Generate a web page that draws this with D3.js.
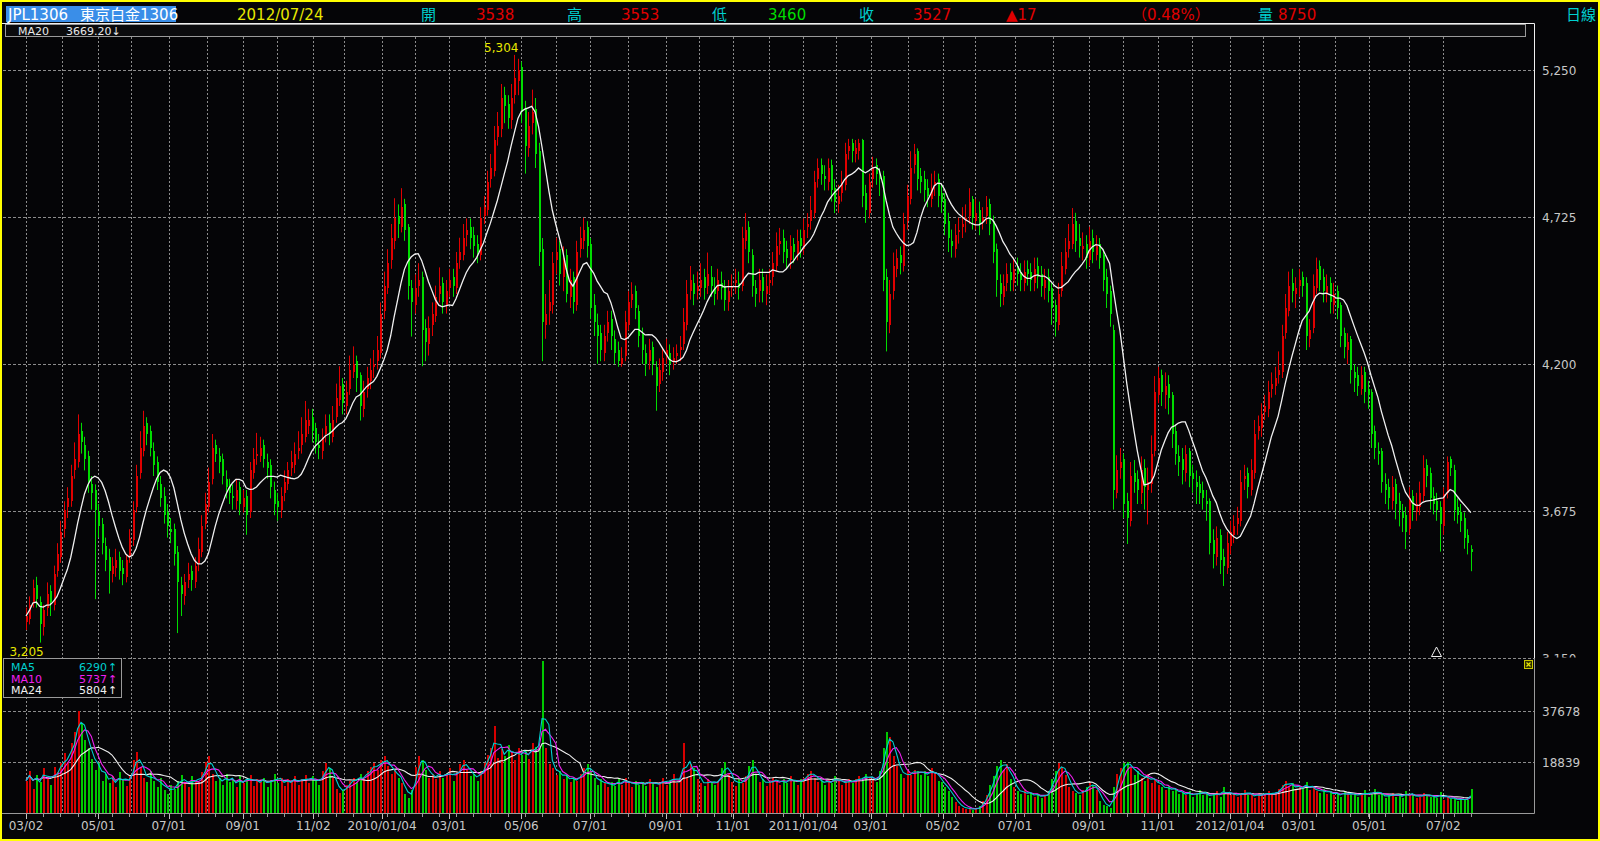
<!DOCTYPE html>
<html><head><meta charset="utf-8">
<script src="https://cdn.jsdelivr.net/npm/d3@7"></script>
<style>
html,body{margin:0;padding:0;background:#050507;overflow:hidden}
svg{display:block}
text{font-family:"DejaVu Sans","Noto Sans CJK TC",sans-serif}
</style></head><body>
<svg id="c" width="1600" height="841"></svg>
<script>
// ---- Data: each bar = 2 trading days, from 2009/03/02 to 2012/07/24 ----
const open = [
3280,3290,3350,3410,3350,3260,3330,3390,3340,3460,
3510,3610,3690,3710,3820,3850,3960,3910,3870,3770,
3750,3670,3630,3550,3510,3450,3470,3510,3470,3440,
3510,3570,3690,3810,3890,3990,3960,3890,3850,3770,
3730,3670,3610,3610,3530,3410,3370,3430,3460,3420,
3490,3530,3630,3690,3790,3910,3870,3860,3790,3770,
3730,3710,3760,3690,3730,3670,3810,3870,3870,3910,
3850,3840,3750,3710,3680,3740,3770,3830,3840,3890,
3910,3940,3980,4010,3970,3910,3890,3950,3990,3940,
4010,4070,4130,4050,4110,4170,4210,4160,4040,4110,
4140,4190,4210,4240,4390,4470,4570,4640,4730,4690,
4770,4690,4470,4410,4480,4510,4330,4270,4340,4370,
4450,4490,4410,4470,4510,4470,4570,4590,4660,4690,
4660,4630,4590,4730,4750,4860,4890,5010,5040,5160,
5130,5070,5160,5210,5260,5110,4970,5060,5110,4960,
4610,4340,4390,4410,4570,4610,4510,4590,4440,4510,
4410,4610,4640,4690,4630,4410,4340,4310,4240,4310,
4360,4290,4250,4200,4230,4340,4430,4460,4390,4310,
4240,4210,4260,4190,4130,4170,4230,4240,4210,4230,
4250,4270,4340,4460,4490,4460,4470,4510,4480,4510,
4470,4460,4490,4480,4420,4470,4490,4490,4480,4640,
4690,4590,4470,4460,4510,4450,4490,4510,4550,4630,
4650,4610,4570,4630,4590,4650,4610,4690,4710,4740,
4860,4910,4870,4850,4910,4830,4770,4810,4840,4960,
4990,4950,4960,5000,4810,4740,4860,4910,4870,4870,
4510,4340,4460,4540,4590,4550,4710,4790,4910,4960,
4870,4860,4830,4790,4840,4860,4810,4790,4710,4640,
4610,4670,4690,4710,4730,4790,4710,4750,4710,4730,
4770,4710,4610,4490,4440,4490,4530,4490,4550,4530,
4490,4540,4530,4490,4550,4520,4470,4510,4470,4410,
4340,4460,4540,4610,4630,4710,4650,4610,4630,4570,
4650,4590,4630,4590,4510,4460,4320,3740,3830,3860,
3710,3640,3810,3790,3740,3830,3750,3770,3890,4090,
4160,4090,4130,4090,3960,3870,3860,3810,3890,3810,
3780,3770,3750,3710,3710,3570,3510,3590,3510,3470,
3550,3590,3630,3640,3790,3810,3750,3810,3960,3970,
4030,4040,4110,4120,4160,4170,4310,4390,4490,4450,
4480,4510,4490,4290,4330,4470,4550,4510,4450,4490,
4410,4460,4410,4310,4250,4290,4170,4160,4110,4170,
4110,4100,3960,3890,3890,3770,3760,3710,3770,3710,
3670,3660,3610,3730,3670,3690,3730,3840,3810,3730,
3710,3690,3620,3740,3860,3820,3690,3670,3650,3590,
3538];
const high = [
3330,3370,3430,3440,3370,3340,3420,3410,3480,3560,
3640,3710,3760,3840,3920,4020,3990,3940,3890,3800,
3770,3700,3650,3580,3540,3510,3540,3530,3500,3520,
3610,3710,3840,3960,4033,4010,3980,3920,3870,3800,
3760,3700,3650,3630,3550,3440,3450,3490,3480,3510,
3580,3660,3740,3830,3950,3930,3900,3880,3820,3790,
3770,3790,3780,3750,3750,3850,3900,3954,3940,3930,
3880,3860,3780,3740,3760,3820,3850,3890,3920,3960,
4010,4068,4040,4040,3990,3950,3970,4020,4020,4050,
4130,4192,4150,4140,4230,4263,4230,4170,4140,4190,
4220,4250,4300,4420,4530,4610,4700,4792,4770,4828,
4790,4700,4500,4520,4560,4530,4360,4370,4420,4480,
4545,4510,4500,4540,4540,4600,4651,4700,4720,4720,
4690,4660,4760,4800,4890,4950,5050,5100,5200,5190,
5160,5200,5304,5290,5280,5140,5100,5180,5150,4990,
4650,4450,4500,4600,4651,4640,4620,4610,4540,4530,
4640,4690,4722,4710,4650,4450,4380,4340,4340,4390,
4390,4320,4280,4260,4390,4460,4492,4480,4410,4330,
4270,4290,4280,4210,4220,4260,4290,4270,4260,4270,
4300,4400,4500,4550,4520,4530,4560,4540,4598,4550,
4510,4540,4530,4500,4500,4520,4540,4530,4690,4739,
4710,4610,4500,4540,4540,4520,4540,4600,4670,4686,
4680,4640,4660,4650,4680,4680,4720,4739,4800,4890,
4934,4934,4910,4934,4930,4860,4840,4890,4990,5004,
5004,5000,5004,5004,4840,4880,4940,4934,4900,4890,
4540,4500,4598,4610,4620,4740,4840,4960,4986,4970,
4900,4890,4860,4880,4890,4880,4840,4810,4740,4680,
4700,4722,4760,4770,4828,4800,4790,4780,4760,4800,
4790,4730,4630,4520,4520,4560,4560,4580,4580,4560,
4570,4570,4560,4580,4580,4550,4540,4540,4490,4430,
4490,4600,4650,4700,4757,4740,4700,4670,4660,4690,
4680,4660,4650,4610,4540,4480,4340,3874,3900,3880,
3740,3850,3857,3820,3870,3860,3830,3945,4157,4190,
4180,4170,4160,4100,3980,3910,3900,3910,3900,3840,
3820,3800,3780,3750,3720,3610,3620,3610,3540,3600,
3640,3660,3690,3821,3840,3830,3860,4000,4016,4060,
4090,4140,4170,4190,4245,4340,4450,4530,4540,4510,
4540,4530,4510,4360,4520,4580,4570,4540,4520,4510,
4490,4480,4420,4330,4310,4300,4200,4190,4192,4190,
4140,4110,3980,3920,3900,3810,3790,3800,3790,3740,
3700,3690,3760,3750,3740,3780,3874,3860,3830,3760,
3740,3710,3760,3870,3870,3840,3720,3700,3670,3610,
3553];
const low = [
3250,3270,3330,3330,3205,3230,3300,3300,3320,3440,
3490,3580,3650,3690,3790,3830,3880,3820,3740,3680,
3360,3580,3520,3460,3380,3420,3440,3430,3410,3420,
3490,3550,3670,3790,3870,3910,3870,3800,3750,3690,
3630,3580,3560,3480,3239,3300,3340,3400,3390,3400,
3460,3510,3610,3670,3770,3850,3810,3770,3720,3700,
3680,3680,3660,3670,3590,3650,3790,3840,3850,3830,
3790,3720,3660,3640,3650,3710,3750,3800,3810,3860,
3880,3920,3950,3920,3880,3860,3860,3920,3910,3920,
3990,4050,4020,4020,4090,4150,4100,3998,4010,4080,
4110,4150,4180,4220,4360,4450,4540,4610,4650,4670,
4640,4430,4298,4380,4440,4192,4210,4230,4300,4350,
4420,4380,4380,4440,4440,4450,4540,4570,4620,4610,
4580,4560,4570,4700,4730,4830,4870,4980,5010,5060,
5040,5040,5130,5160,5060,4880,4940,5020,4900,4550,
4210,4290,4340,4380,4520,4480,4460,4420,4400,4380,
4390,4580,4610,4580,4360,4300,4201,4210,4210,4280,
4250,4200,4190,4190,4210,4320,4400,4360,4260,4200,
4157,4180,4160,4033,4100,4140,4200,4160,4180,4200,
4210,4250,4320,4430,4410,4430,4440,4430,4450,4440,
4410,4430,4430,4390,4390,4440,4450,4430,4460,4610,
4560,4440,4404,4420,4420,4410,4450,4480,4530,4590,
4560,4540,4540,4560,4570,4580,4590,4650,4680,4720,
4830,4840,4820,4820,4780,4739,4740,4780,4820,4930,
4920,4920,4930,4760,4704,4720,4830,4840,4800,4460,
4245,4310,4430,4510,4520,4530,4680,4770,4880,4820,
4810,4780,4760,4760,4800,4760,4740,4660,4600,4580,
4580,4630,4650,4670,4700,4680,4680,4660,4680,4700,
4660,4560,4440,4404,4410,4460,4460,4460,4480,4460,
4460,4480,4460,4460,4470,4440,4430,4420,4340,4298,
4320,4440,4520,4580,4610,4600,4580,4570,4540,4550,
4560,4570,4540,4460,4400,4333,3680,3720,3790,3650,
3557,3620,3740,3700,3700,3680,3627,3740,3870,4060,
4050,4040,4020,3900,3840,3800,3770,3780,3760,3740,
3700,3700,3680,3640,3520,3470,3480,3450,3407,3450,
3520,3560,3590,3620,3750,3720,3730,3790,3930,3940,
4000,4010,4080,4090,4130,4150,4290,4370,4420,4400,
4440,4440,4250,4260,4310,4450,4460,4420,4420,4380,
4380,4360,4260,4220,4200,4130,4100,4086,4090,4060,
4040,3900,3860,3840,3740,3700,3680,3680,3645,3620,
3600,3539,3590,3640,3640,3660,3710,3760,3680,3663,
3640,3530,3590,3720,3800,3640,3630,3600,3540,3520,
3460];
const close = [
3300,3340,3400,3360,3270,3320,3380,3350,3450,3520,
3600,3680,3720,3800,3860,3950,3920,3860,3780,3740,
3680,3620,3560,3500,3460,3480,3500,3460,3450,3500,
3580,3680,3800,3900,3980,3950,3900,3840,3780,3720,
3660,3620,3600,3520,3420,3380,3420,3450,3430,3480,
3540,3620,3700,3780,3900,3880,3850,3800,3760,3740,
3720,3750,3700,3720,3660,3820,3860,3880,3900,3860,
3830,3760,3700,3690,3730,3780,3820,3850,3880,3900,
3950,4000,4000,3960,3920,3900,3940,3980,3950,4000,
4080,4120,4060,4100,4180,4200,4150,4050,4100,4150,
4180,4200,4250,4380,4480,4560,4650,4720,4700,4760,
4680,4480,4420,4470,4500,4320,4280,4330,4380,4440,
4480,4420,4460,4500,4480,4560,4600,4650,4680,4650,
4620,4600,4720,4760,4850,4900,5000,5050,5150,5120,
5080,5150,5220,5250,5100,4980,5050,5100,4950,4600,
4350,4380,4420,4560,4600,4520,4580,4450,4500,4420,
4600,4650,4680,4620,4400,4350,4300,4250,4300,4350,
4300,4240,4210,4220,4350,4420,4450,4400,4300,4250,
4200,4250,4200,4120,4180,4220,4250,4200,4220,4240,
4260,4350,4450,4500,4450,4480,4500,4470,4520,4480,
4450,4500,4470,4430,4460,4480,4500,4470,4650,4680,
4600,4480,4450,4500,4460,4480,4500,4560,4620,4640,
4600,4580,4620,4600,4640,4620,4680,4700,4750,4850,
4900,4880,4860,4900,4820,4780,4800,4850,4950,4980,
4960,4970,4990,4800,4750,4850,4900,4880,4860,4500,
4350,4450,4550,4580,4560,4700,4800,4900,4950,4860,
4850,4820,4800,4830,4850,4800,4780,4700,4650,4620,
4660,4680,4700,4720,4780,4720,4740,4700,4720,4760,
4700,4600,4500,4450,4480,4520,4500,4540,4520,4500,
4530,4520,4500,4540,4510,4480,4500,4460,4400,4350,
4450,4550,4600,4640,4700,4640,4620,4620,4580,4640,
4600,4620,4580,4500,4450,4380,3750,3820,3850,3700,
3650,3800,3780,3750,3820,3760,3780,3880,4100,4150,
4100,4120,4080,3950,3880,3850,3820,3880,3800,3790,
3760,3740,3720,3700,3560,3520,3580,3500,3480,3560,
3600,3620,3650,3780,3800,3760,3820,3950,3980,4020,
4050,4100,4130,4150,4180,4300,4400,4480,4460,4470,
4500,4480,4300,4320,4480,4540,4500,4460,4480,4420,
4450,4400,4300,4260,4280,4180,4150,4120,4160,4100,
4090,3950,3900,3880,3780,3750,3720,3760,3700,3680,
3650,3600,3720,3680,3700,3740,3830,3800,3720,3700,
3680,3630,3735,3850,3830,3680,3660,3640,3580,3560,
3527];
const volume = [
12000,15500,9000,14000,11500,16500,13000,10500,17000,15000,
18500,22000,19000,26000,30000,37500,33000,27000,24000,20000,
16000,18500,12000,14500,11000,13500,9500,15000,12500,10000,
14000,19500,22500,17000,13000,11500,15500,12000,9500,13000,
8500,7000,10500,9000,12000,14000,11000,9500,13500,12000,
11500,15000,19000,21000,14500,12000,13000,10500,14500,11500,
12500,9500,13500,11000,12500,14000,10000,12500,11500,13000,
9500,12000,14500,11000,13000,10000,12500,11500,13500,10500,
12500,14000,11000,13500,12000,10500,15500,18500,16500,13000,
9000,7500,8500,10500,12000,13000,11500,14500,12500,15500,
17000,18500,16000,19500,21000,17500,14500,16000,13000,11000,
7000,5500,8500,17000,21000,19500,16000,13000,14500,12500,
15500,13000,14000,16500,12000,15000,18000,19500,16000,13500,
14500,12000,15500,18500,21500,24000,32000,20500,23500,21000,
25000,22500,19500,24000,21500,23000,20000,26000,24500,24000,
56000,24000,18000,16500,14000,15500,12500,14000,11500,13000,
12000,14500,16500,18000,15000,13000,10500,12500,11000,9500,
11500,10000,12500,10500,13000,11000,9500,12000,10500,11500,
10000,12500,11000,9500,11500,13000,10500,12000,14500,11000,
12000,26000,13000,18000,16500,12500,11000,10000,12500,11500,
10500,12000,16500,19000,14500,11500,10000,12500,11000,13500,
17500,19500,14000,11500,12500,10000,11500,13000,12000,10500,
12500,11000,13500,12000,10500,12500,13000,14500,15500,13000,
11500,12000,10500,12500,11000,13500,12000,10500,11500,12500,
11000,12500,13500,12000,14500,13000,12500,11500,15500,24000,
30000,28000,21000,17500,14500,13000,15500,14000,16000,15500,
14000,15500,13500,16500,15000,12000,11500,9500,8000,6000,
4000,2500,2000,1500,1800,1200,1500,2500,4500,6500,
10500,13500,17500,19500,16000,18000,12500,9500,8000,7000,
8500,6500,7500,6000,7000,5500,6500,8000,12500,15500,
18500,17000,14000,9500,8000,7500,6500,8500,9500,11000,
10500,8500,4500,3000,2500,2000,9500,14500,16500,18500,
19000,16500,14000,15500,13000,12000,14500,11000,12500,10500,
9500,8500,10000,8000,9000,7000,7500,6500,8000,6000,
7000,8500,6500,7500,5500,7000,8000,6000,9500,7000,
6500,7500,6000,7000,8500,6500,7000,5500,7500,6500,
7000,8000,6500,7500,9000,10500,12000,9500,11000,8500,
10000,9000,11500,8500,9500,8000,7500,9000,7000,8000,
6500,7500,6000,8000,7000,6500,7500,6000,7000,8500,
6000,7500,9000,6500,7000,5500,6500,7500,6000,7000,
5500,8000,6500,7000,5500,6000,7500,6500,6000,6200,
5400,7800,4900,6100,5300,5263,4615,5200,5200,4920,
8750];

// trading-day index of each month start (bar i sits at trading day 2*i)
const monthDays = [0,21,42,61,83,105,126,146,167,185,207,226,246,267,288,308,328,350,372,391,411,
                   432,452,471,491,513,533,552,575,597,618,638,658,678,700,719,740,761,781,804,824];
const monthLabels = ["03/02","","05/01","","07/01","","09/01","","11/02","","2010/01/04","","03/01","","05/06","","07/01","","09/01","","11/01",
                     "","2011/01/04","","03/01","","05/02","","07/01","","09/01","","11/01","","2012/01/04","","03/01","","05/01","","07/02"];
const priceTicks = [5250, 4725, 4200, 3675, 3150];
const volumeTicks = [37678, 18839];
const markerBars = [410];
const maWindow = 10;                 // 10 bars x 2 days = MA20
const volMaWindows = [3, 5, 12];     // ~MA5, MA10, MA24 in days
const volMaNames = ["MA5", "MA10", "MA24"];
const header = {code:"JPL1306", name:"東京白金1306", date:"2012/07/24", change:"▲17", pct:"（0.48%）"};

// ---- Drawing ----
const W = 1600, H = 841;
const svg = d3.select('#c');
const N = close.length;
const RED = "#e00000", GREEN = "#00dc00", CYAN = "#00d0d0", YEL = "#e8e800", GRID = "#8c8c8c", LBL = "#c8c8c8";

const x = d3.scaleLinear().domain([0, 840]).range([26, 26 + 840 * 1.72]);
const bx = i => x(i * 2);
const yP = d3.scaleLinear().domain([3150, 5250]).range([658, 70]);
const yV = d3.scaleLinear().domain([0, 37678]).range([813, 711]);

const mavg = (arr, n) => arr.map((_, i) => { const s = Math.max(0, i - n + 1); return d3.sum(arr.slice(s, i + 1)) / (i - s + 1); });
const ma20 = mavg(close, maWindow);
const vma = volMaWindows.map(n => mavg(volume, n));
const isUp = i => close[i] >= open[i];

svg.append('rect').attr('width', W).attr('height', H).attr('fill', '#050507');

const defs = svg.append('defs');
defs.append('clipPath').attr('id', 'cp').append('rect').attr('x', 3).attr('y', 37).attr('width', 1531).attr('height', 621);
defs.append('clipPath').attr('id', 'cv').append('rect').attr('x', 3).attr('y', 658).attr('width', 1531).attr('height', 156);
defs.append('clipPath').attr('id', 'cl').append('rect').attr('x', 1535).attr('y', 37).attr('width', 60).attr('height', 620.5);

// grid
const g = svg.append('g');
g.selectAll('.hg').data(priceTicks).join('line')
  .attr('x1', 3).attr('x2', 1534).attr('y1', d => Math.round(yP(d)) + 0.5).attr('y2', d => Math.round(yP(d)) + 0.5)
  .attr('stroke', GRID).attr('stroke-dasharray', '3,2');
g.selectAll('.vg').data(volumeTicks).join('line')
  .attr('x1', 3).attr('x2', 1534).attr('y1', d => Math.round(yV(d)) + 0.5).attr('y2', d => Math.round(yV(d)) + 0.5)
  .attr('stroke', GRID).attr('stroke-dasharray', '3,2');
g.selectAll('.mg').data(monthDays).join('line')
  .attr('x1', d => Math.round(x(d)) + 0.5).attr('x2', d => Math.round(x(d)) + 0.5).attr('y1', 37).attr('y2', 813)
  .attr('stroke', GRID).attr('stroke-dasharray', '2,2');

// candles
const cg = svg.append('g').attr('clip-path', 'url(#cp)');
const idx = d3.range(N);
cg.selectAll('.w').data(idx).join('line')
  .attr('x1', i => Math.round(bx(i)) + 0.5).attr('x2', i => Math.round(bx(i)) + 0.5)
  .attr('y1', i => yP(Math.max(high[i], open[i], close[i]))).attr('y2', i => yP(Math.min(low[i], open[i], close[i])))
  .attr('stroke', i => isUp(i) ? RED : GREEN).attr('stroke-width', 1);
cg.selectAll('.b').data(idx).join('rect')
  .attr('x', i => Math.round(bx(i)) - 0.5).attr('width', 2.4)
  .attr('y', i => yP(Math.max(open[i], close[i])))
  .attr('height', i => Math.max(1, yP(Math.min(open[i], close[i])) - yP(Math.max(open[i], close[i]))))
  .attr('fill', i => isUp(i) ? RED : GREEN).attr('shape-rendering', 'crispEdges');

// MA20 line
cg.append('path').datum(ma20)
  .attr('d', d3.line().x((d, i) => bx(i)).y(d => yP(d)))
  .attr('fill', 'none').attr('stroke', '#f0f0f0').attr('stroke-width', 1.3);

// high / low labels
const iMax = d3.maxIndex(high), iMin = d3.minIndex(low);
svg.append('text').attr('x', bx(iMax) + 4).attr('y', yP(high[iMax]) - 3).attr('text-anchor', 'end')
  .attr('fill', YEL).attr('font-size', 12).text(d3.format(',')(high[iMax]));
svg.append('text').attr('x', bx(iMin) + 4).attr('y', yP(low[iMin]) + 13).attr('text-anchor', 'end')
  .attr('fill', YEL).attr('font-size', 12).text(d3.format(',')(low[iMin]));

// marker triangle
svg.selectAll('.mk').data(markerBars).join('path')
  .attr('d', i => { const cx = Math.round(bx(i)) + 0.5; return `M${cx},647 L${cx + 5},656.5 L${cx - 5},656.5 Z`; })
  .attr('fill', 'none').attr('stroke', '#f0f0f0').attr('stroke-width', 1);

// volume
const vg = svg.append('g').attr('clip-path', 'url(#cv)');
vg.selectAll('.v').data(idx).join('rect')
  .attr('x', i => Math.round(bx(i)) - 0.5).attr('width', 2.4)
  .attr('y', i => yV(volume[i])).attr('height', i => 813 - yV(volume[i]))
  .attr('fill', i => isUp(i) ? "#d80000" : "#00c800").attr('shape-rendering', 'crispEdges');
const vColors = [CYAN, "#f020f0", "#f0f0f0"];
[2, 1, 0].forEach(k => {
  vg.append('path').datum(vma[k])
    .attr('d', d3.line().x((d, i) => bx(i)).y(d => yV(d)))
    .attr('fill', 'none').attr('stroke', vColors[k]).attr('stroke-width', 1.1);
});

// frames
svg.append('line').attr('x1', 2).attr('x2', 1534.5).attr('y1', 23.5).attr('y2', 23.5).attr('stroke', '#f0f0f0');
svg.append('line').attr('x1', 1534.5).attr('x2', 1534.5).attr('y1', 23.5).attr('y2', 658).attr('stroke', '#f0f0f0');
svg.append('line').attr('x1', 1534.5).attr('x2', 1534.5).attr('y1', 658).attr('y2', 813.5).attr('stroke', '#9a9a9a');
svg.append('line').attr('x1', 2).attr('x2', 1534.5).attr('y1', 813.5).attr('y2', 813.5).attr('stroke', '#9a9a9a');

// x ticks & labels
const ax = svg.append('g');
ax.selectAll('.mt').data(d3.range(0, N, 5)).join('line')
  .attr('x1', i => Math.round(bx(i)) + 0.5).attr('x2', i => Math.round(bx(i)) + 0.5).attr('y1', 814).attr('y2', 817)
  .attr('stroke', '#9a9a9a');
const lab = monthDays.map((d, k) => ({d, t: monthLabels[k]})).filter(o => o.t);
ax.selectAll('.Mt').data(lab).join('line')
  .attr('x1', o => Math.round(x(o.d)) + 0.5).attr('x2', o => Math.round(x(o.d)) + 0.5).attr('y1', 814).attr('y2', 819)
  .attr('stroke', '#c0c0c0');
ax.selectAll('.xl').data(lab).join('text')
  .attr('x', o => x(o.d)).attr('y', 830).attr('text-anchor', 'middle')
  .attr('fill', LBL).attr('font-size', 12).text(o => o.t);

// y labels
svg.append('g').attr('clip-path', 'url(#cl)').selectAll('text').data(priceTicks).join('text')
  .attr('x', 1542).attr('y', d => yP(d) + 4.5).attr('fill', LBL).attr('font-size', 12).text(d => d3.format(',')(d));
svg.selectAll('.vl').data(volumeTicks).join('text')
  .attr('x', 1542).attr('y', d => yV(d) + 4.5).attr('fill', LBL).attr('font-size', 12).text(d => d);

// close box
svg.append('rect').attr('x', 1524.5).attr('y', 660.5).attr('width', 8).attr('height', 8).attr('fill', '#303000').attr('stroke', '#c8c800');
svg.append('path').attr('d', 'M1526.5,662.5 L1530.5,666.5 M1530.5,662.5 L1526.5,666.5').attr('stroke', YEL).attr('stroke-width', 1.2);

// MA20 bar
svg.append('rect').attr('x', 5.5).attr('y', 24.5).attr('width', 1520).attr('height', 12).attr('fill', '#0b0b0d').attr('stroke', '#9a9a9a');
const lastMa = ma20[N - 1], prevMa = ma20[N - 2];
svg.append('text').attr('x', 18).attr('y', 34.5).attr('fill', '#e8e8e8').attr('font-size', 11).text('MA20');
svg.append('text').attr('x', 66).attr('y', 34.5).attr('fill', '#e8e8e8').attr('font-size', 11)
  .text(lastMa.toFixed(2) + (lastMa < prevMa ? '↓' : '↑'));

// volume legend
svg.append('rect').attr('x', 3.5).attr('y', 658.5).attr('width', 118).attr('height', 39).attr('fill', '#050507').attr('stroke', '#9a9a9a');
volMaNames.forEach((nm, k) => {
  const yy = 671 + k * 11.5;
  const v = vma[k][N - 1], pv = vma[k][N - 2];
  svg.append('text').attr('x', 11).attr('y', yy).attr('fill', vColors[k]).attr('font-size', 11).text(nm);
  svg.append('text').attr('x', 107).attr('y', yy).attr('text-anchor', 'end').attr('fill', vColors[k]).attr('font-size', 11).text(Math.round(v));
  svg.append('text').attr('x', 108).attr('y', yy).attr('fill', vColors[k]).attr('font-size', 11).text(v >= pv ? '↑' : '↓');
});

// header
const L = N - 1;
svg.append('rect').attr('x', 6).attr('y', 6).attr('width', 170).attr('height', 16).attr('fill', '#3a8ee8');
const ht = (xx, t, c) => svg.append('text').attr('x', xx).attr('y', 19.5).attr('fill', c).attr('font-size', 15).text(t);
ht(8, header.code, '#ffffff');
ht(80, header.name, '#ffffff');
ht(237, header.date, YEL);
ht(421, '開', CYAN); ht(476, open[L], RED);
ht(567, '高', CYAN); ht(621, high[L], RED);
ht(712, '低', CYAN); ht(768, low[L], GREEN);
ht(859, '收', CYAN); ht(913, close[L], RED);
ht(1006, header.change, RED);
ht(1132, header.pct, RED);
ht(1258, '量', CYAN); ht(1278, volume[L], RED);
ht(1566, '日線', CYAN);

// outer yellow border
svg.append('rect').attr('x', 1).attr('y', 1).attr('width', W - 2).attr('height', H - 2)
  .attr('fill', 'none').attr('stroke', '#ffff00').attr('stroke-width', 2);
</script>
</body></html>
